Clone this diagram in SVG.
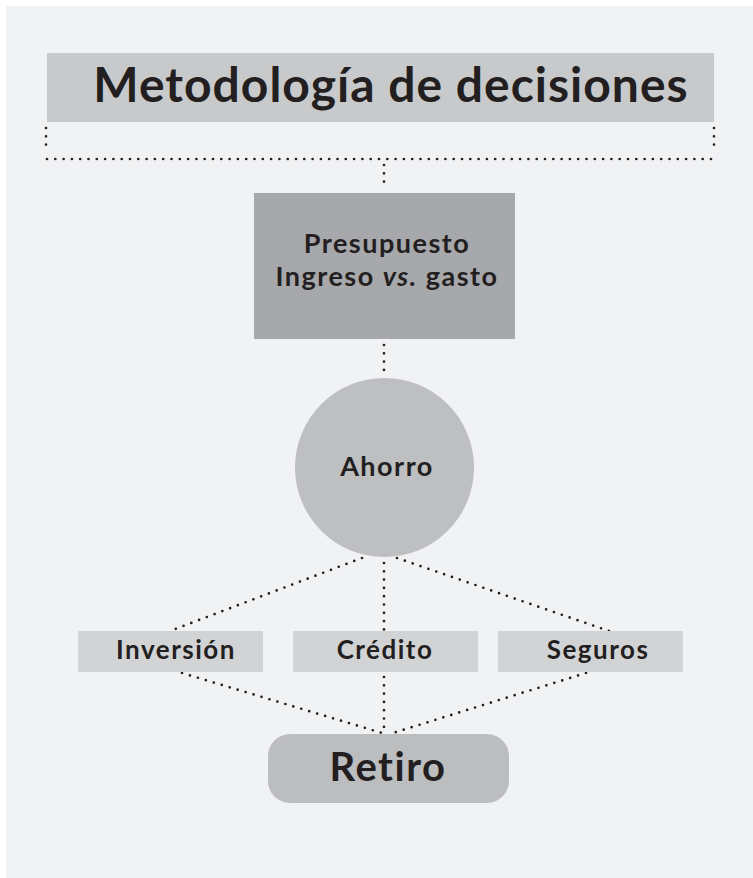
<svg xmlns="http://www.w3.org/2000/svg" width="753" height="878" viewBox="0 0 753 878">
<style>
.t{font-family:Lato,"Noto Sans","Liberation Sans",sans-serif;font-weight:700;fill:#231f20;text-anchor:middle;letter-spacing:1.5px}
.d{fill:none;stroke:#231f20;stroke-width:2.7;stroke-linecap:round;stroke-dasharray:0 8.3}
</style>
<rect x="0" y="0" width="753" height="878" fill="#ffffff"/>
<rect x="6" y="6" width="747" height="872" fill="#f1f2f4"/>
<g id="connectors">
<path class="d" d="M46 128V150"/>
<path class="d" d="M714 128V150"/>
<path class="d" d="M47 159H714"/>
<path class="d" d="M384 165V187"/>
<path class="d" d="M384 345V373"/>
<path class="d" d="M362 558L170 631"/>
<path class="d" d="M384 563V630"/>
<path class="d" d="M397 558L609 631"/>
<path class="d" d="M182 673L382 733"/>
<path class="d" d="M384 677V731"/>
<path class="d" d="M586 673L393 733"/>
</g>
<g id="title">
<rect x="47" y="53" width="667" height="69" fill="#c8c9cb"/>
<text class="t" x="391" y="102" font-size="48" style="letter-spacing:1px">Metodología de decisiones</text>
</g>
<g id="presupuesto">
<rect x="254" y="193" width="261" height="146" fill="#a7a8ab"/>
<text class="t" x="387" y="253" font-size="27">Presupuesto</text>
<text class="t" x="387" y="286" font-size="27">Ingreso <tspan font-style="italic">vs.</tspan> gasto</text>
</g>
<g id="ahorro">
<circle cx="384.5" cy="467.5" r="89.5" fill="#bebfc1"/>
<text class="t" x="387" y="476" font-size="27">Ahorro</text>
</g>
<g id="inversion">
<rect x="78" y="631" width="185" height="41" fill="#d2d3d5"/>
<text class="t" x="176" y="659" font-size="26">Inversión</text>
</g>
<g id="credito">
<rect x="293" y="631" width="185" height="41" fill="#d2d3d5"/>
<text class="t" x="385" y="659" font-size="26">Crédito</text>
</g>
<g id="seguros">
<rect x="498" y="631" width="185" height="41" fill="#d2d3d5"/>
<text class="t" x="598" y="659" font-size="26">Seguros</text>
</g>
<g id="retiro">
<rect x="268" y="734" width="241" height="69" rx="22" fill="#bcbdbf"/>
<text class="t" x="388" y="781" font-size="40">Retiro</text>
</g>
</svg>
